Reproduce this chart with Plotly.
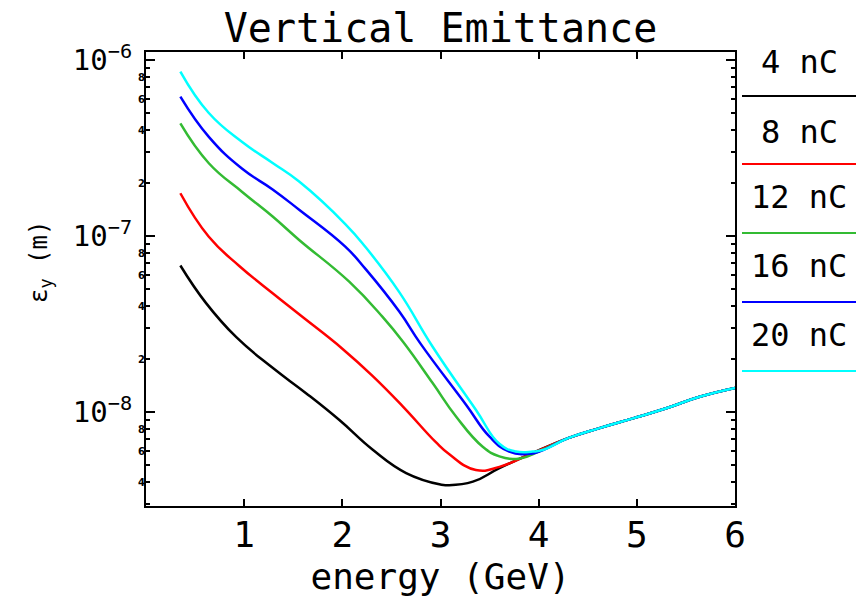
import math
import plotly.graph_objects as go

# ---------------- data ----------------
charges = ["4 nC", "8 nC", "12 nC", "16 nC", "20 nC"]
colors = ["#000000", "#ff0000", "#33bb33", "#0000ff", "#00ffff"]

tail_e = [4.30, 4.62, 4.96, 5.30, 5.64, 6.00]
tail_v = [7.1e-9, 8.1e-9, 9.2e-9, 1.05e-8, 1.22e-8, 1.37e-8]

e_4nc = [0.35, 0.61, 0.92, 1.28, 1.63, 1.97, 2.31, 2.65, 3.00, 3.07, 3.33, 3.60, 3.94]
v_4nc = [6.8e-8, 4.17e-8, 2.66e-8, 1.8e-8, 1.28e-8, 9.0e-9, 6.1e-9, 4.5e-9,
         3.87e-9, 3.84e-9, 4.02e-9, 4.8e-9, 5.85e-9]

e_8nc = [0.35, 0.64, 0.95, 1.29, 1.56, 2.00, 2.31, 2.62, 2.95, 3.09, 3.36, 3.60, 3.94]
v_8nc = [1.75e-7, 9.9e-8, 6.76e-8, 4.73e-8, 3.59e-8, 2.29e-8, 1.6e-8, 1.07e-8,
         6.76e-9, 5.75e-9, 4.68e-9, 4.88e-9, 5.85e-9]

e_12nc = [0.35, 0.64, 0.98, 1.29, 1.56, 2.07, 2.41, 2.62, 2.92, 3.16, 3.43, 3.60, 3.81, 4.01]
v_12nc = [4.36e-7, 2.59e-7, 1.78e-7, 1.29e-7, 9.5e-8, 5.5e-8, 3.47e-8, 2.5e-8,
          1.46e-8, 9.4e-9, 6.35e-9, 5.6e-9, 5.45e-9, 6.0e-9]

e_16nc = [0.35, 0.64, 0.98, 1.29, 1.56, 2.03, 2.24, 2.58, 2.80, 3.26, 3.50, 3.70, 3.94, 4.05]
v_16nc = [6.2e-7, 3.66e-7, 2.41e-7, 1.84e-7, 1.41e-7, 8.7e-8, 6.46e-8, 3.72e-8,
          2.43e-8, 1.1e-8, 7.24e-9, 5.96e-9, 5.82e-9, 6.1e-9]

e_20nc = [0.35, 0.64, 0.98, 1.29, 1.56, 2.03, 2.24, 2.58, 2.92, 3.36, 3.60, 3.77, 3.94, 4.05]
v_20nc = [8.6e-7, 5.0e-7, 3.42e-7, 2.6e-7, 2.04e-7, 1.17e-7, 8.6e-8, 4.8e-8,
          2.35e-8, 1.03e-8, 6.6e-9, 5.96e-9, 5.96e-9, 6.1e-9]

x_ticks = [1, 2, 3, 4, 5, 6]
y_major = [1e-8, 1e-7, 1e-6]
y_major_text = ["10<sup>\u22128</sup>", "10<sup>\u22127</sup>", "10<sup>\u22126</sup>"]
minor_mult = [2, 4, 6, 8]
decades = [1e-9, 1e-8, 1e-7]

# ---------------- figure ----------------
FONT = "DejaVu Sans Mono"
ylog_range = [-8.534, -5.9545]

series = [(e_4nc, v_4nc), (e_8nc, v_8nc), (e_12nc, v_12nc), (e_16nc, v_16nc), (e_20nc, v_20nc)]

fig = go.Figure()
for (ex, vy), name, col in zip(series, charges, colors):
    fig.add_trace(go.Scatter(
        x=list(ex) + tail_e, y=list(vy) + tail_v, mode="lines", name=name,
        line=dict(color=col, width=2.5, shape="spline", smoothing=1.3),
        showlegend=False))

# invisible trace to activate the overlay axis carrying the small minor labels
fig.add_trace(go.Scatter(x=[None], y=[None], yaxis="y2", showlegend=False))

minor_vals = [m * d for d in decades for m in range(2, 10)]
small_vals = [m * d for d in decades for m in minor_mult
              if ylog_range[0] < math.log10(m * d) < ylog_range[1]]
small_text = [str(int(round(v / 10 ** math.floor(math.log10(v) + 1e-9)))) for v in small_vals]

fig.update_layout(
    width=856, height=604,
    margin=dict(l=146, r=121, t=52, b=98),
    paper_bgcolor="white", plot_bgcolor="white",
    font=dict(family=FONT, color="black"),
    title=dict(text="Vertical Emittance", x=0.5, xref="paper", xanchor="center",
               y=1 - 28 / 604, yref="container", yanchor="middle",
               font=dict(family=FONT, size=40, color="black")),
    xaxis=dict(range=[0, 6], tickvals=x_ticks, ticks="inside", ticklen=7, tickwidth=2,
               tickcolor="black", showline=True, linewidth=2, linecolor="black",
               mirror="ticks", showgrid=False, zeroline=False, ticklabelstandoff=-4,
               tickfont=dict(family=FONT, size=36),
               title=dict(text="energy (GeV)", font=dict(family=FONT, size=36), standoff=10)),
    yaxis=dict(type="log", range=ylog_range, tickvals=y_major, ticktext=y_major_text,
               ticks="inside", ticklen=9, tickwidth=2, tickcolor="black",
               showline=True, linewidth=2, linecolor="black", mirror="ticks",
               showgrid=False, zeroline=False, ticklabelstandoff=6,
               tickfont=dict(family=FONT, size=29),
               minor=dict(tickvals=minor_vals, ticks="inside", ticklen=4, tickwidth=2,
                          tickcolor="black", showgrid=False)),
    yaxis2=dict(type="log", range=ylog_range, overlaying="y", side="left", anchor="x",
                tickvals=small_vals, ticktext=small_text, ticks="", showline=False,
                showgrid=False, zeroline=False, ticklabelstandoff=0,
                tickfont=dict(family="DejaVu Sans", size=10, color="black", weight="bold")),
)

# y-axis title
fig.add_annotation(text="\u03b5<sub>y</sub> (m)", xref="paper", yref="paper",
                   x=(40 - 146) / 589, y=(506 - 262) / 454, textangle=-90,
                   showarrow=False, font=dict(family=FONT, size=24, color="black"),
                   xanchor="center", yanchor="middle")

# legend on the right: label with coloured line underneath
label_y = [62, 132, 197, 266, 335]
line_y = [96, 164, 233, 302, 371]
for name, col, ly, lny in zip(charges, colors, label_y, line_y):
    fig.add_annotation(text=name, xref="paper", yref="paper",
                       x=(799 - 146) / 589, y=(506 - ly) / 454, showarrow=False,
                       xanchor="center", yanchor="middle",
                       font=dict(family=FONT, size=32, color="black"))
    fig.add_shape(type="line", xref="paper", yref="paper",
                  x0=(742 - 146) / 589, x1=(858 - 146) / 589,
                  y0=(506 - lny) / 454, y1=(506 - lny) / 454,
                  line=dict(color=col, width=2))

fig.write_html("out.html")
